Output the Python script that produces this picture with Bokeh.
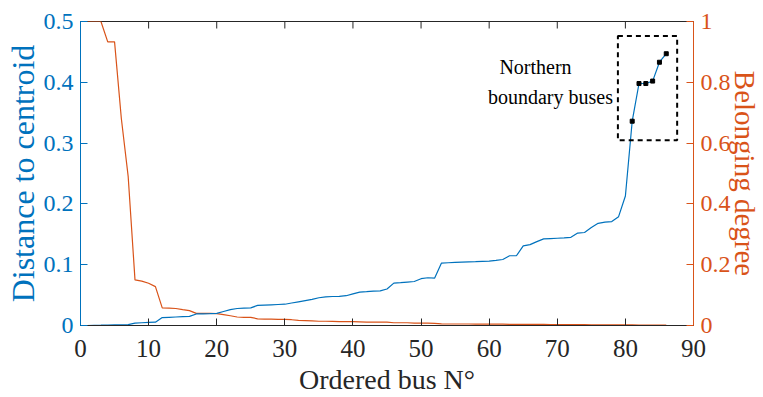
from math import pi

from bokeh.plotting import figure
from bokeh.models import Range1d, LinearAxis, FixedTicker, BoxAnnotation, Label
from bokeh.embed import file_html
from bokeh.resources import INLINE

# Ordered bus index and the two per-bus quantities
bus = list(range(1, 87))
distance = [
    0.000, 0.0003, 0.0005, 0.0008, 0.001, 0.0012, 0.0015, 0.004, 0.0045, 0.005,
    0.0055, 0.013, 0.0135, 0.014, 0.0145, 0.015, 0.019, 0.0192, 0.0195, 0.020,
    0.023, 0.026, 0.028, 0.0285, 0.029, 0.033, 0.0335, 0.034, 0.0345, 0.035,
    0.037, 0.039, 0.041, 0.043, 0.0456, 0.047, 0.0477, 0.048, 0.049, 0.052,
    0.055, 0.0557, 0.0565, 0.057, 0.060, 0.0697, 0.0705, 0.0715, 0.0724, 0.077,
    0.0785, 0.078, 0.1026, 0.1032, 0.1037, 0.1042, 0.1047, 0.105, 0.1055, 0.106,
    0.107, 0.1086, 0.1147, 0.1147, 0.131, 0.133, 0.138, 0.1425, 0.143, 0.1435,
    0.144, 0.145, 0.152, 0.153, 0.161, 0.168, 0.170, 0.171, 0.179, 0.213,
    0.336, 0.398, 0.398, 0.402, 0.433, 0.447,
]
belonging = [
    1.0, 1.0, 1.0, 0.933, 0.933, 0.68, 0.49, 0.150, 0.146, 0.139,
    0.128, 0.058, 0.057, 0.056, 0.052, 0.049, 0.040, 0.040, 0.040, 0.039,
    0.036, 0.032, 0.028, 0.027, 0.027, 0.022, 0.021, 0.021, 0.020, 0.020,
    0.019, 0.017, 0.016, 0.015, 0.014, 0.014, 0.0135, 0.013, 0.013, 0.013,
    0.012, 0.011, 0.011, 0.011, 0.011, 0.009, 0.009, 0.009, 0.008, 0.008,
    0.008, 0.007, 0.0055, 0.005, 0.005, 0.005, 0.005, 0.0048, 0.0046, 0.0045,
    0.0044, 0.0042, 0.004, 0.004, 0.0038, 0.0036, 0.0035, 0.0034, 0.0032, 0.003,
    0.003, 0.0028, 0.0027, 0.0026, 0.0025, 0.0024, 0.0023, 0.0022, 0.0021, 0.002,
    0.0018, 0.0016, 0.0014, 0.0012, 0.0011, 0.001,
]
# Buses highlighted as the northern boundary group
boundary_bus = bus[80:]
boundary_distance = distance[80:]

x_ticks = [0, 10, 20, 30, 40, 50, 60, 70, 80, 90]
left_ticks = [0, 0.1, 0.2, 0.3, 0.4, 0.5]
right_ticks = [0, 0.2, 0.4, 0.6, 0.8, 1.0]

BLUE = "#0072BD"
ORANGE = "#D95319"
DARK = "#262626"
FONT = "Liberation Serif"

p = figure(width=763, height=397, output_backend="svg", toolbar_location=None,
           x_range=Range1d(0, 90), y_range=Range1d(0, 0.5),
           min_border_left=80, min_border_right=67, min_border_top=21,
           min_border_bottom=72)
p.extra_y_ranges = {"belong": Range1d(0, 1)}
p.grid.visible = False
p.outline_line_color = DARK
p.outline_line_alpha = 1.0
p.background_fill_color = "white"
p.border_fill_color = "white"

def style_axis(ax, color, ticks, tick_size, title, title_size):
    ax.ticker = FixedTicker(ticks=ticks)
    ax.axis_line_color = color
    ax.major_tick_line_color = color
    ax.major_tick_in = 7
    ax.major_tick_out = 0
    ax.minor_tick_line_color = None
    ax.major_label_text_font = FONT
    ax.major_label_text_font_size = tick_size
    ax.major_label_text_color = color
    ax.axis_label = title
    ax.axis_label_text_font = FONT
    ax.axis_label_text_font_size = title_size
    ax.axis_label_text_font_style = "normal"
    ax.axis_label_text_color = color
    ax.axis_label_text_line_height = 1.0

xa = p.xaxis[0]
style_axis(xa, DARK, x_ticks, "25px", "Ordered bus N°", "28px")
xa.major_label_standoff = 14
xa.axis_label_standoff = 4

ya = p.yaxis[0]
style_axis(ya, BLUE, left_ticks, "24px", "Distance to centroid", "32px")
ya.major_label_standoff = 7
ya.axis_label_standoff = 0

ra = LinearAxis(y_range_name="belong")
style_axis(ra, ORANGE, right_ticks, "24px", "Belonging degree", "29px")
ra.major_label_standoff = 7
ra.axis_label_standoff = -5
p.add_layout(ra, "right")

# inward ticks along the top edge of the box
p.ray(x=x_ticks, y=[0.5] * len(x_ticks), length=7, length_units="screen",
      angle=-pi / 2, line_color=DARK, line_width=1)

p.line(bus, belonging, y_range_name="belong", line_color=ORANGE, line_width=1.2)
p.line(bus, distance, line_color=BLUE, line_width=1.2)
p.scatter(boundary_bus, boundary_distance, marker="square", size=4,
          fill_color="black", line_color="black")

p.add_layout(BoxAnnotation(left=78.9, right=87.6, bottom=0.3045, top=0.476,
                           fill_color=None, fill_alpha=0, line_color="black",
                           line_alpha=1.0, line_width=2, line_dash="5 4"))

p.add_layout(Label(x=66.8, y=0.425, text="Northern", text_font=FONT,
                   text_font_size="20px", text_color="black",
                   text_align="center", text_baseline="middle"))
p.add_layout(Label(x=69.0, y=0.376, text="boundary buses", text_font=FONT,
                   text_font_size="20px", text_color="black",
                   text_align="center", text_baseline="middle"))

open("out.html", "w").write(file_html(p, INLINE))
